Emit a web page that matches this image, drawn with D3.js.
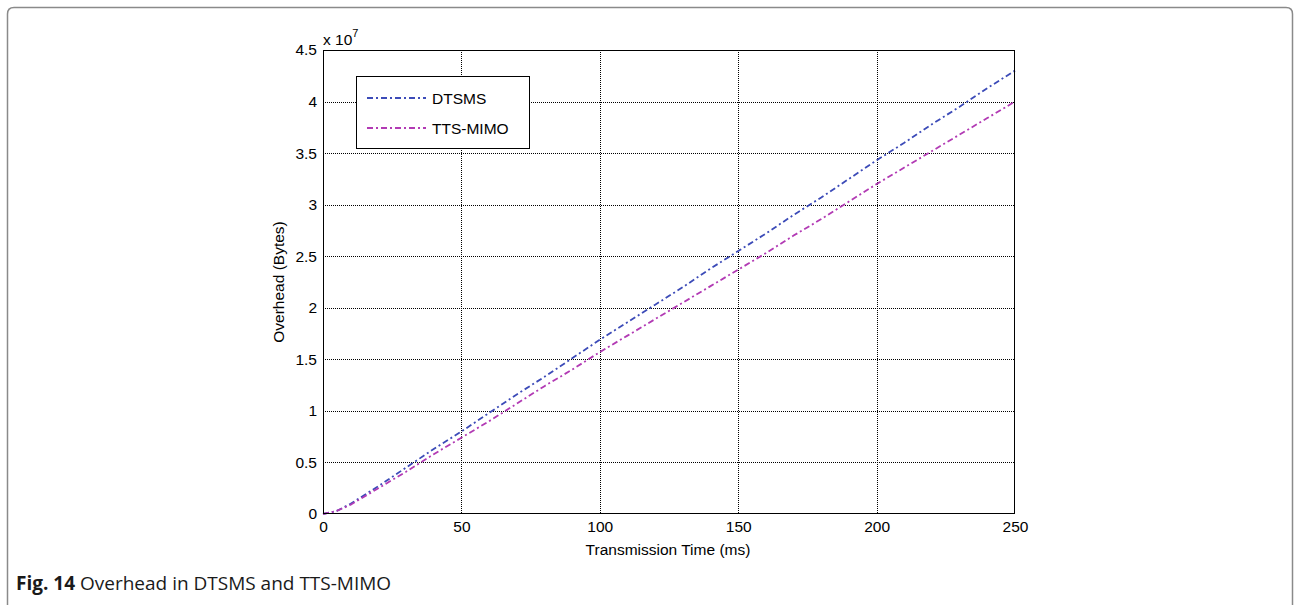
<!DOCTYPE html>
<html><head><meta charset="utf-8">
<script src="https://cdn.jsdelivr.net/npm/d3@7/dist/d3.min.js"></script>
<style>body{margin:0;background:#fff}svg{display:block}</style>
</head><body>
<svg id="c" width="1294" height="605"></svg>
<script>
const timeMs = [0,5,10,20,30,40,50,60,70,80,90,100,110,120,130,140,150,160,170,180,190,200,210,220,230,240,250];
const dtsms = [0,0.03,0.1,0.27,0.45,0.63,0.8,0.98,1.16,1.33,1.51,1.69,1.86,2.03,2.2,2.38,2.55,2.72,2.9,3.07,3.25,3.43,3.6,3.78,3.95,4.13,4.3];
const ttsMimo = [0,0.03,0.09,0.25,0.41,0.58,0.74,0.9,1.07,1.24,1.4,1.57,1.73,1.89,2.05,2.21,2.37,2.53,2.7,2.86,3.03,3.2,3.36,3.52,3.68,3.84,4.0];
const seriesNames = ["DTSMS","TTS-MIMO"];
const xTicks = [0,50,100,150,200,250];
const yTicks = [0,0.5,1,1.5,2,2.5,3,3.5,4,4.5];
const colors = ["#3c4bb8","#b23ab4"];

const svg = d3.select("#c");
svg.append("path")
  .attr("d","M7.5,610 L7.5,14 Q7.5,7.5 14,7.5 L1286,7.5 Q1292.5,7.5 1292.5,14 L1292.5,610")
  .attr("fill","none").attr("stroke","#8a8a8a").attr("stroke-width",1.5);

const L=323, R=1015, T=50, B=514;
const x = d3.scaleLinear().domain([0,250]).range([L,R]);
const y = d3.scaleLinear().domain([0,4.5]).range([B,T]);
const font = "'Liberation Sans', Arial, sans-serif";
const fs = 15.5;

const g = svg.append("g");
g.selectAll(".gx").data(xTicks.slice(1,-1)).join("line")
  .attr("x1",d=>Math.round(x(d))+0.5).attr("x2",d=>Math.round(x(d))+0.5)
  .attr("y1",T).attr("y2",B).attr("stroke","#000").attr("stroke-width",1).attr("stroke-dasharray","1,1");
g.selectAll(".gy").data(yTicks.slice(1,-1)).join("line")
  .attr("y1",d=>Math.round(y(d))+0.5).attr("y2",d=>Math.round(y(d))+0.5)
  .attr("x1",L).attr("x2",R).attr("stroke","#000").attr("stroke-width",1).attr("stroke-dasharray","1,1");

const line = d3.line().x((d,i)=>x(timeMs[i])).y(d=>y(d));
[dtsms, ttsMimo].forEach((s,k)=>{
  svg.append("path").datum(s).attr("d",line).attr("fill","none")
    .attr("stroke",colors[k]).attr("stroke-width",1.8).attr("stroke-dasharray","6,3,2,3");
});

svg.append("rect").attr("x",L+0.5).attr("y",T+0.5).attr("width",R-L-1).attr("height",B-T-1)
  .attr("fill","none").attr("stroke","#000").attr("stroke-width",1);

const xAxis = svg.append("g").attr("transform",`translate(0,${B})`)
  .call(d3.axisBottom(x).tickValues(xTicks).tickSize(0).tickPadding(7).tickFormat(d3.format("d")));
xAxis.select(".domain").remove();
xAxis.selectAll("text").attr("font-family",font).attr("font-size",fs).attr("fill","#000");
const yAxis = svg.append("g").attr("transform",`translate(${L},0)`)
  .call(d3.axisLeft(y).tickValues(yTicks).tickSize(0).tickPadding(6).tickFormat(d=>String(d)));
yAxis.select(".domain").remove();
yAxis.selectAll("text").attr("font-family",font).attr("font-size",fs).attr("fill","#000");

const ex = svg.append("text").attr("x",L).attr("y",T-5).attr("font-family",font).attr("font-size",fs);
ex.append("tspan").text("x 10");
ex.append("tspan").attr("dy",-8).attr("font-size",11).text("7");

svg.append("text").attr("x",(L+R)/2-1).attr("y",555).attr("text-anchor","middle")
  .attr("font-family",font).attr("font-size",fs).text("Transmission Time (ms)");
svg.append("text").attr("transform",`translate(284,${(T+B)/2}) rotate(-90)`).attr("text-anchor","middle")
  .attr("font-family",font).attr("font-size",fs).text("Overhead (Bytes)");

const lg = svg.append("g");
lg.append("rect").attr("x",356.5).attr("y",76.5).attr("width",173).attr("height",72)
  .attr("fill","#fff").attr("stroke","#000").attr("stroke-width",1);
seriesNames.forEach((n,k)=>{
  const yy = 98 + k*30;
  lg.append("line").attr("x1",367).attr("x2",426).attr("y1",yy).attr("y2",yy)
    .attr("stroke",colors[k]).attr("stroke-width",1.8).attr("stroke-dasharray","6,3,2,3");
  lg.append("text").attr("x",432).attr("y",yy+5.5).attr("font-family",font).attr("font-size",fs).text(n);
});

const cap = svg.append("text").attr("x",16).attr("y",590).attr("font-family","'Open Sans', sans-serif").attr("font-size",19).attr("fill","#1a1a1a");
cap.append("tspan").attr("font-weight","bold").text("Fig. 14");
cap.append("tspan").text(" Overhead in DTSMS and TTS-MIMO");
</script>
</body></html>
